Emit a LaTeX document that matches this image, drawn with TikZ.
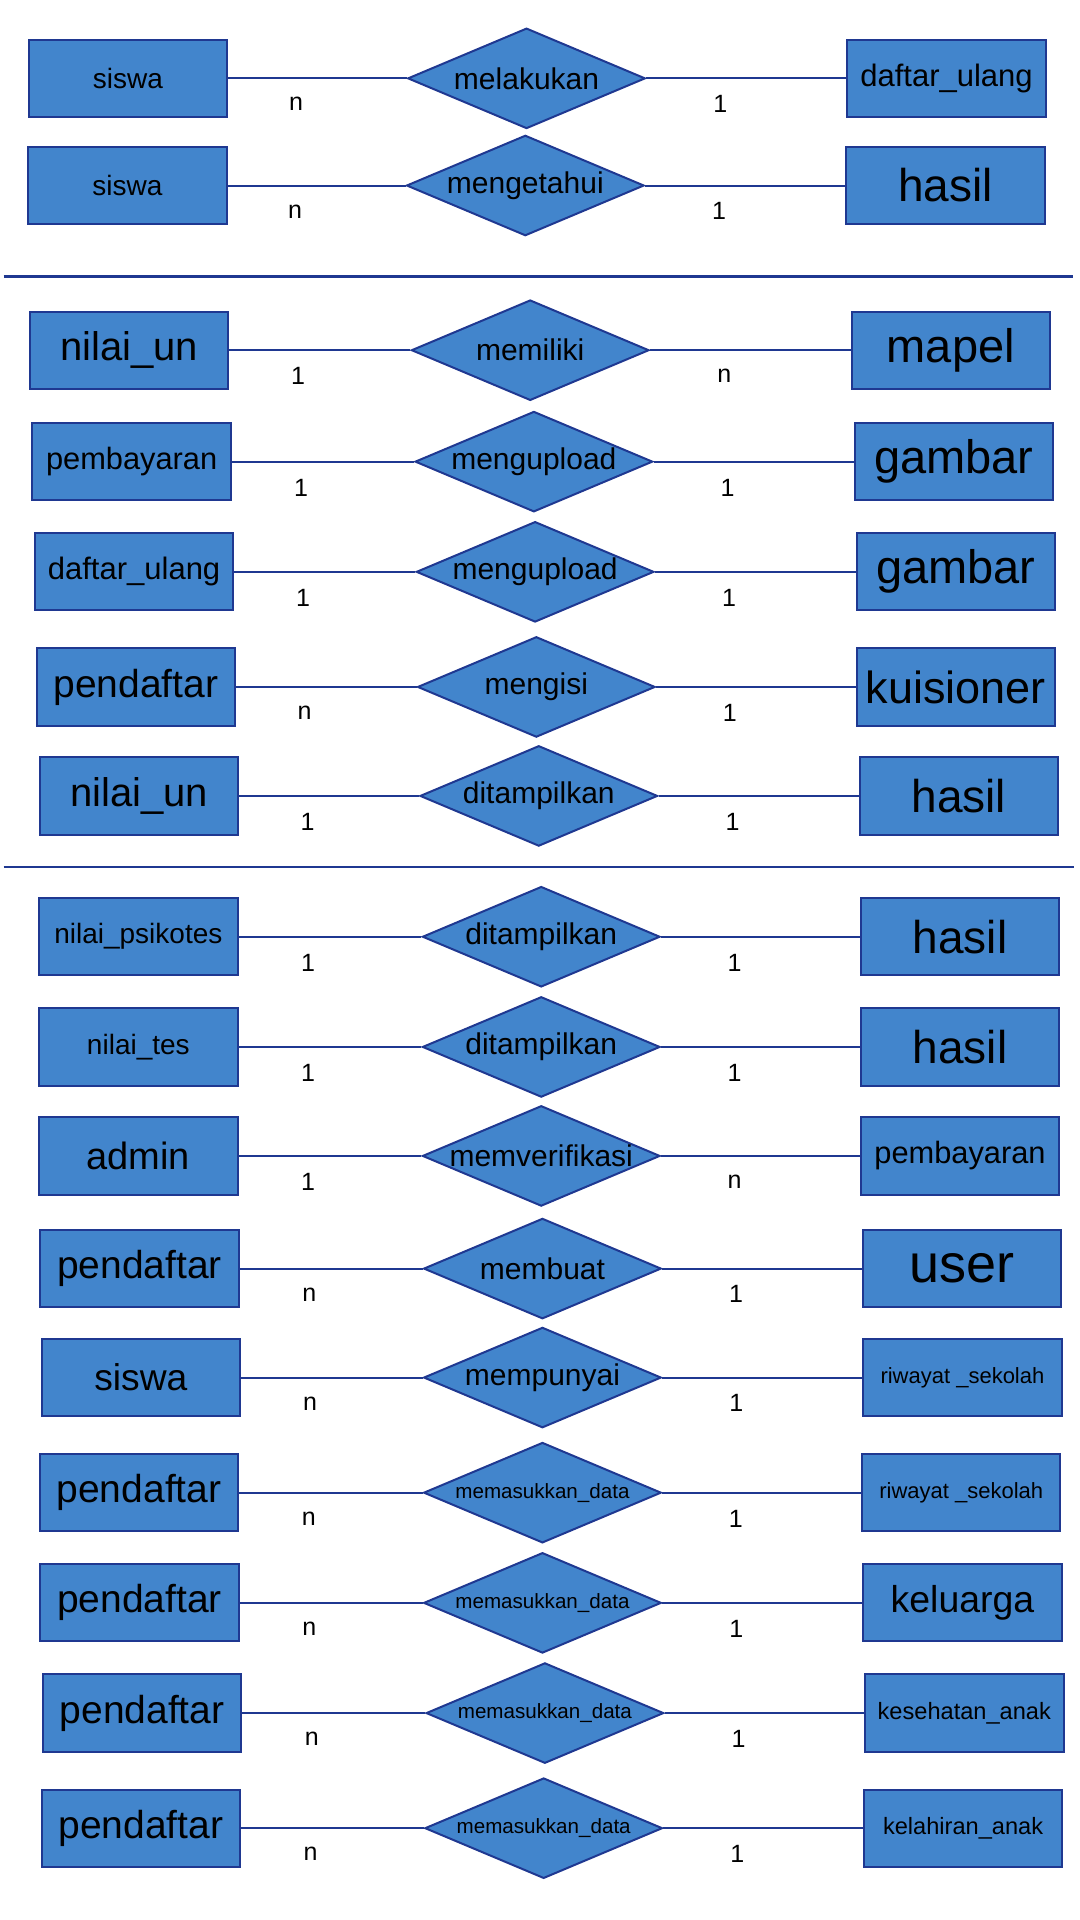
\documentclass[tikz,border=0pt]{standalone}
\usepackage{fontspec}
\setmainfont{Liberation Sans}
\usetikzlibrary{shapes.geometric}
\definecolor{erblue}{RGB}{66,133,204}
\definecolor{ernavy}{RGB}{31,56,145}

\begin{document}
\begin{tikzpicture}[x=0.6122pt, y=-0.6122pt,
  fs/.style={font=\fontsize{#1}{#1}\selectfont},
  entity/.style={rectangle, draw=ernavy, fill=erblue, line width=1pt, minimum width=99.2pt, minimum height=38.6pt, inner sep=0pt},
  relation/.style={diamond, draw=ernavy, fill=erblue, line width=1pt, minimum width=118.8pt, minimum height=50.2pt, inner sep=0pt},
  link/.style={draw=ernavy, line width=1pt},
  card/.style={fs=12.5, inner sep=0pt, yshift=-12.9pt}]
\useasboundingbox (0,0) rectangle (882,1568);

\node[entity, fs=14] (e1) at (104.5,64) {siswa};
\node[relation, label={[fs=15]center:melakukan}] (r1) at (430,64) {};
\node[entity, fs=15.5] (f1) at (773,64) {daftar\_ulang};
\draw[link] (e1) -- node[card, pos=0.38] {n} (r1);
\draw[link] (r1) -- node[card, pos=0.37] {1} (f1);

\node[entity, fs=14] (e2) at (104,151.5) {siswa};
\node[relation, label={[fs=15]center:mengetahui}] (r2) at (429,151.5) {};
\node[entity, fs=23] (f2) at (772,151.5) {hasil};
\draw[link] (e2) -- node[card, pos=0.38] {n} (r2);
\draw[link] (r2) -- node[card, pos=0.37] {1} (f2);

\coordinate (s1a) at (3,226);
\coordinate (s1b) at (876,226);
\draw[link, line width=1.3pt] (s1a) -- (s1b);

\node[entity, fs=20] (e3) at (105.5,286) {nilai\_un};
\node[relation, label={[fs=15]center:memiliki}] (r3) at (433,286) {};
\node[entity, fs=23.5] (f3) at (776.5,286) {mapel};
\draw[link] (e3) -- node[card, pos=0.38] {1} (r3);
\draw[link] (r3) -- node[card, pos=0.37] {n} (f3);

\node[entity, fs=15.4] (e4) at (107.5,377) {pembayaran};
\node[relation, label={[fs=15]center:mengupload}] (r4) at (436,377) {};
\node[entity, fs=23.5] (f4) at (779,377) {gambar};
\draw[link] (e4) -- node[card, pos=0.38] {1} (r4);
\draw[link] (r4) -- node[card, pos=0.37] {1} (f4);

\node[entity, fs=15.5] (e5) at (109.5,467) {daftar\_ulang};
\node[relation, label={[fs=15]center:mengupload}] (r5) at (437,467) {};
\node[entity, fs=23.5] (f5) at (780.5,467) {gambar};
\draw[link] (e5) -- node[card, pos=0.38] {1} (r5);
\draw[link] (r5) -- node[card, pos=0.37] {1} (f5);

\node[entity, fs=19.5] (e6) at (111,561) {pendaftar};
\node[relation, label={[fs=15]center:mengisi}] (r6) at (438,561) {};
\node[entity, fs=22.5] (f6) at (780.5,561) {kuisioner};
\draw[link] (e6) -- node[card, pos=0.38] {n} (r6);
\draw[link] (r6) -- node[card, pos=0.37] {1} (f6);

\node[entity, fs=20] (e7) at (113.5,650) {nilai\_un};
\node[relation, label={[fs=15]center:ditampilkan}] (r7) at (440,650) {};
\node[entity, fs=23] (f7) at (783,650) {hasil};
\draw[link] (e7) -- node[card, pos=0.38] {1} (r7);
\draw[link] (r7) -- node[card, pos=0.37] {1} (f7);

\coordinate (s2a) at (3,708);
\coordinate (s2b) at (877,708);
\draw[link, line width=1.3pt] (s2a) -- (s2b);

\node[entity, fs=14] (e8) at (113,765) {nilai\_psikotes};
\node[relation, label={[fs=15]center:ditampilkan}] (r8) at (442,765) {};
\node[entity, fs=23] (f8) at (784,765) {hasil};
\draw[link] (e8) -- node[card, pos=0.38] {1} (r8);
\draw[link] (r8) -- node[card, pos=0.37] {1} (f8);

\node[entity, fs=14] (e9) at (113,855) {nilai\_tes};
\node[relation, label={[fs=15]center:ditampilkan}] (r9) at (442,855) {};
\node[entity, fs=23] (f9) at (784,855) {hasil};
\draw[link] (e9) -- node[card, pos=0.38] {1} (r9);
\draw[link] (r9) -- node[card, pos=0.37] {1} (f9);

\node[entity, fs=19] (e10) at (113,944) {admin};
\node[relation, label={[fs=15]center:memverifikasi}] (r10) at (442,944) {};
\node[entity, fs=15.4] (f10) at (784,944) {pembayaran};
\draw[link] (e10) -- node[card, pos=0.38] {1} (r10);
\draw[link] (r10) -- node[card, pos=0.37] {n} (f10);

\node[entity, fs=19.5] (e11) at (114,1036) {pendaftar};
\node[relation, label={[fs=15]center:membuat}] (r11) at (443,1036) {};
\node[entity, fs=27] (f11) at (785.5,1036) {user};
\draw[link] (e11) -- node[card, pos=0.38] {n} (r11);
\draw[link] (r11) -- node[card, pos=0.37] {1} (f11);

\node[entity, fs=18.6] (e12) at (115,1125) {siswa};
\node[relation, label={[fs=15]center:mempunyai}] (r12) at (443,1125) {};
\node[entity, fs=11] (f12) at (786,1125) {riwayat \_sekolah};
\draw[link] (e12) -- node[card, pos=0.38] {n} (r12);
\draw[link] (r12) -- node[card, pos=0.37] {1} (f12);

\node[entity, fs=19.5] (e13) at (113.5,1219) {pendaftar};
\node[relation, label={[fs=10.3]center:memasukkan\_data}] (r13) at (443,1219) {};
\node[entity, fs=11] (f13) at (785,1219) {riwayat \_sekolah};
\draw[link] (e13) -- node[card, pos=0.38] {n} (r13);
\draw[link] (r13) -- node[card, pos=0.37] {1} (f13);

\node[entity, fs=19.5] (e14) at (114,1309) {pendaftar};
\node[relation, label={[fs=10.3]center:memasukkan\_data}] (r14) at (443,1309) {};
\node[entity, fs=18.7] (f14) at (786,1309) {keluarga};
\draw[link] (e14) -- node[card, pos=0.38] {n} (r14);
\draw[link] (r14) -- node[card, pos=0.37] {1} (f14);

\node[entity, fs=19.5] (e15) at (116,1399) {pendaftar};
\node[relation, label={[fs=10.3]center:memasukkan\_data}] (r15) at (445,1399) {};
\node[entity, fs=11.8] (f15) at (787.5,1399) {kesehatan\_anak};
\draw[link] (e15) -- node[card, pos=0.38] {n} (r15);
\draw[link] (r15) -- node[card, pos=0.37] {1} (f15);

\node[entity, fs=19.5] (e16) at (115,1493) {pendaftar};
\node[relation, label={[fs=10.3]center:memasukkan\_data}] (r16) at (444,1493) {};
\node[entity, fs=11.8] (f16) at (786.5,1493) {kelahiran\_anak};
\draw[link] (e16) -- node[card, pos=0.38] {n} (r16);
\draw[link] (r16) -- node[card, pos=0.37] {1} (f16);
\end{tikzpicture}
\end{document}
